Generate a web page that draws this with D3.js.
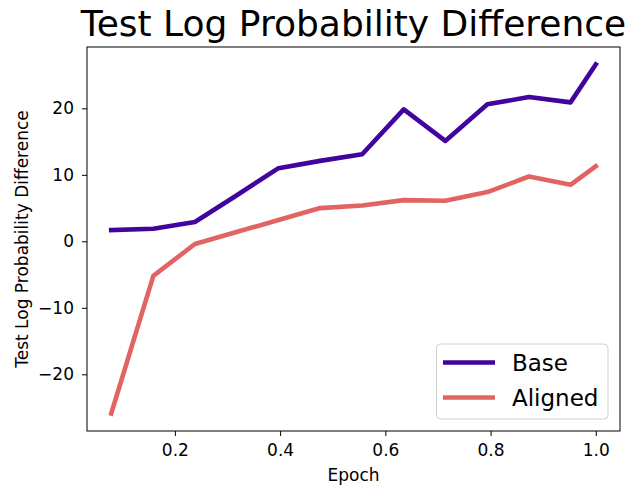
<!DOCTYPE html>
<html><head><meta charset="utf-8">
<script src="https://cdn.jsdelivr.net/npm/d3@7"></script>
<style>body{margin:0;background:#fff}svg{display:block}text{font-family:"DejaVu Sans",sans-serif}</style>
</head><body>
<svg id="c" width="626" height="487"></svg>
<script>
const epochs = [0.079, 0.159, 0.238, 0.317, 0.397, 0.476, 0.556, 0.635, 0.714, 0.794, 0.873, 0.952, 1.0];
const baseValues = [1.7, 1.9, 2.9, 6.9, 11.0, 12.1, 13.1, 19.85, 15.1, 20.6, 21.7, 20.9, 26.6];
const alignedValues = [-25.9, -5.2, -0.4, 1.4, 3.2, 5.0, 5.4, 6.2, 6.1, 7.4, 9.75, 8.5, 11.3];
const seriesNames = ["Base", "Aligned"];
const seriesColors = ["#41049d", "#e16462"];
const xTicks = [0.2, 0.4, 0.6, 0.8, 1.0];
const yTicks = [-20, -10, 0, 10, 20];

const svg = d3.select("#c");
const L = 87, R = 620, T = 47, B = 431;

const xmin = d3.min(epochs), xmax = d3.max(epochs), xp = (xmax - xmin) * 0.05;
const all = baseValues.concat(alignedValues);
const ymin = d3.min(all), ymax = d3.max(all), yp = (ymax - ymin) * 0.05;
const x = d3.scaleLinear().domain([xmin - xp, xmax + xp]).range([L, R]);
const y = d3.scaleLinear().domain([ymin - yp, ymax + yp]).range([B, T]);

const series = [baseValues, alignedValues];
const line = d3.line().x((d, i) => x(epochs[i])).y(d => y(d));
series.forEach((s, k) => {
  svg.append("path").datum(s).attr("d", line).attr("fill", "none")
    .attr("stroke", seriesColors[k]).attr("stroke-width", 4.6)
    .attr("stroke-linejoin", "round").attr("stroke-linecap", "square");
});

const xa = svg.append("g").attr("transform", `translate(0,${B})`)
  .call(d3.axisBottom(x).tickValues(xTicks).tickFormat(d3.format(".1f")).tickSize(5).tickPadding(8));
const ya = svg.append("g").attr("transform", `translate(${L},0)`)
  .call(d3.axisLeft(y).tickValues(yTicks).tickFormat(d3.format("d")).tickSize(5).tickPadding(8));
[xa, ya].forEach(g => {
  g.select(".domain").remove();
  g.selectAll("line").attr("stroke", "#000").attr("stroke-width", 1);
  g.selectAll("text").attr("font-size", 17).attr("fill", "#000").style("font-family", "DejaVu Sans");
});

svg.append("rect").attr("x", L).attr("y", T).attr("width", R - L).attr("height", B - T)
  .attr("fill", "none").attr("stroke", "#000").attr("stroke-width", 1);

svg.append("text").attr("x", (L + R) / 2).attr("y", 36).attr("text-anchor", "middle")
  .attr("font-size", 36).text("Test Log Probability Difference");
svg.append("text").attr("x", (L + R) / 2).attr("y", 481).attr("text-anchor", "middle")
  .attr("font-size", 17).text("Epoch");
svg.append("text").attr("transform", `translate(28,${(T + B) / 2}) rotate(-90)`).attr("text-anchor", "middle")
  .attr("font-size", 17).text("Test Log Probability Difference");

const lg = svg.append("g");
lg.append("rect").attr("x", 436.5).attr("y", 344).attr("width", 171.5).attr("height", 75)
  .attr("rx", 4).attr("fill", "#fff").attr("fill-opacity", 0.8).attr("stroke", "#d0d0d0").attr("stroke-width", 1);
seriesNames.forEach((n, k) => {
  const yy = 362.5 + k * 35;
  lg.append("line").attr("x1", 443).attr("x2", 495).attr("y1", yy).attr("y2", yy)
    .attr("stroke", seriesColors[k]).attr("stroke-width", 4.6);
  lg.append("text").attr("x", 512).attr("y", yy + 8).attr("font-size", 23).text(n);
});
</script>
</body></html>
